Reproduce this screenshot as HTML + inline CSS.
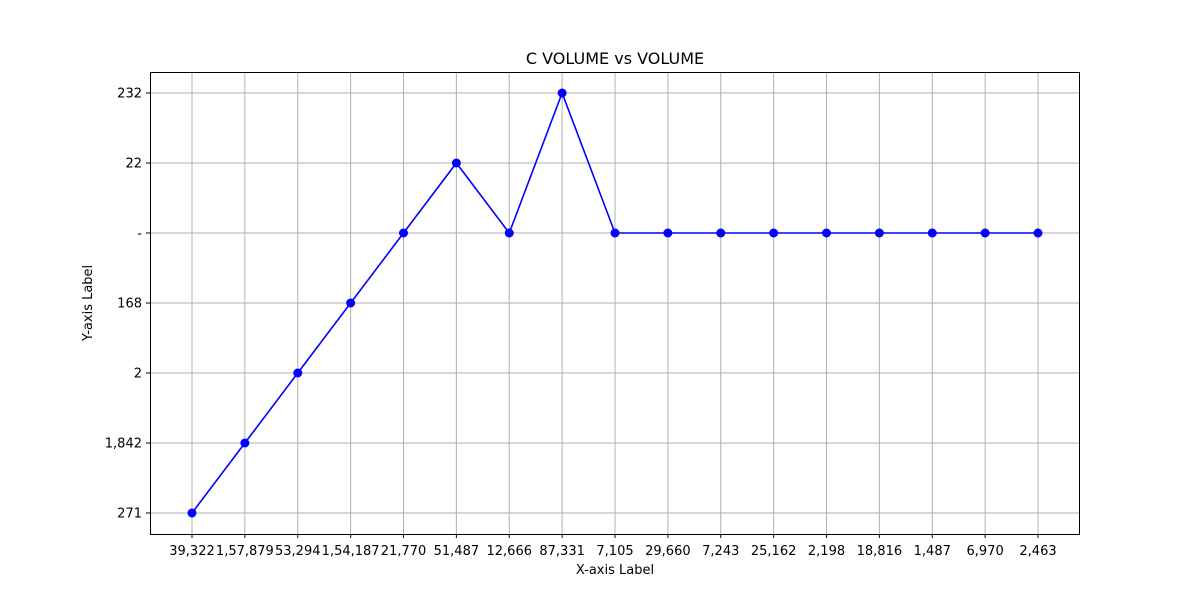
<!DOCTYPE html>
<html><head><meta charset="utf-8"><style>
body{margin:0;background:#fff;font-family:"DejaVu Sans","Liberation Sans",sans-serif;}
text{font-family:"DejaVu Sans","Liberation Sans",sans-serif;}
</style></head><body>
<svg id="chart" width="1200" height="600" xmlns="http://www.w3.org/2000/svg">
<rect width="1200" height="600" fill="#fff"/>
<text x="615" y="64" text-anchor="middle" font-size="16">C VOLUME vs VOLUME</text>
<text x="615" y="574" text-anchor="middle" font-size="13">X-axis Label</text>
<text x="92" y="303" text-anchor="middle" font-size="13" transform="rotate(-90 92 303)">Y-axis Label</text>
<g id="grid"></g><g id="ticks"></g><g id="series"></g>
<rect x="150.5" y="72.5" width="929" height="462" fill="none" stroke="#000" stroke-width="1"/>
</svg>
<script>
const xLabels = ["39,322","1,57,879","53,294","1,54,187","21,770","51,487","12,666","87,331","7,105","29,660","7,243","25,162","2,198","18,816","1,487","6,970","2,463"];
const yCategories = ["271","1,842","2","168","-","22","232"];
const yValues = ["271","1,842","2","168","-","22","-","232","-","-","-","-","-","-","-","-","-"];
const NS="http://www.w3.org/2000/svg";
function xPos(i){return 192+i*(1038-192)/(xLabels.length-1);}
function yPos(c){const k=yCategories.indexOf(c);return 513-k*(513-93)/(yCategories.length-1);}
function mk(t,a,p){const e=document.createElementNS(NS,t);for(const k in a)e.setAttribute(k,a[k]);p.appendChild(e);return e;}
const grid=document.getElementById('grid'),ticks=document.getElementById('ticks'),ser=document.getElementById('series');
xLabels.forEach((l,i)=>{const x=xPos(i);
 const g=mk('line',{x1:x,x2:x,y1:72,y2:534,stroke:'#b0b0b0','stroke-width':1},grid);
 
 
 mk('line',{x1:x,x2:x,y1:534,y2:538,stroke:'#000'},ticks);
 const t=mk('text',{x:x,y:555,'text-anchor':'middle','font-size':13},ticks);t.textContent=l;
 
 
});
yCategories.forEach(c=>{const y=yPos(c);
 const g=mk('line',{x1:150,x2:1080,y1:y,y2:y,stroke:'#b0b0b0','stroke-width':1},grid);
 
 
 mk('line',{x1:146,x2:150,y1:y,y2:y,stroke:'#000'},ticks);
 const t=mk('text',{x:142,y:y+4.5,'text-anchor':'end','font-size':13},ticks);t.textContent=c;
 
 
});
const pts=yValues.map((v,i)=>xPos(i)+','+yPos(v)).join(' ');
const pl=mk('polyline',{points:pts,fill:'none',stroke:'#0000ff','stroke-width':1.6},ser);


yValues.forEach((v,i)=>{const c=mk('circle',{cx:xPos(i),cy:yPos(v),r:4.5,fill:'#0000ff'},ser);
 
 
});
</script>
</body></html>
